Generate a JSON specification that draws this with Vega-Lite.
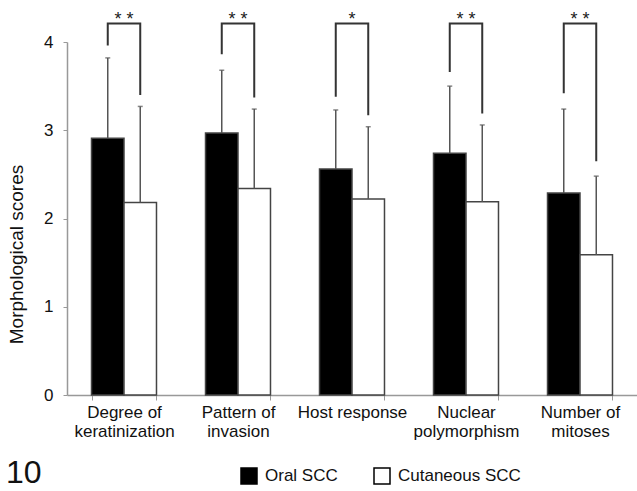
{
  "$schema": "https://vega.github.io/schema/vega-lite/v6.json",
  "autosize": {"type": "none"},
  "padding": {"left": 67, "top": 42, "right": 0, "bottom": 96},
  "width": 570,
  "height": 353,
  "background": "white",
  "title": {"text": "10", "orient": "bottom", "anchor": "start", "frame": "group", "fontSize": 32, "fontWeight": "normal", "font": "Liberation Sans", "color": "#111", "dx": -61, "offset": -29, "baseline": "top"},
  "datasets": {
    "bars": [
      {"cat": "Degree of|keratinization", "group": "Oral SCC", "mean": 2.91, "upper": 3.82},
      {"cat": "Degree of|keratinization", "group": "Cutaneous SCC", "mean": 2.18, "upper": 3.27},
      {"cat": "Pattern of|invasion", "group": "Oral SCC", "mean": 2.97, "upper": 3.68},
      {"cat": "Pattern of|invasion", "group": "Cutaneous SCC", "mean": 2.34, "upper": 3.24},
      {"cat": "Host response", "group": "Oral SCC", "mean": 2.56, "upper": 3.23},
      {"cat": "Host response", "group": "Cutaneous SCC", "mean": 2.22, "upper": 3.04},
      {"cat": "Nuclear|polymorphism", "group": "Oral SCC", "mean": 2.74, "upper": 3.5},
      {"cat": "Nuclear|polymorphism", "group": "Cutaneous SCC", "mean": 2.19, "upper": 3.06},
      {"cat": "Number of|mitoses", "group": "Oral SCC", "mean": 2.29, "upper": 3.24},
      {"cat": "Number of|mitoses", "group": "Cutaneous SCC", "mean": 1.59, "upper": 2.48}
    ],
    "brackets": [
      {"cat": "Degree of|keratinization", "group": "Oral SCC", "seq": 1, "y": 3.96},
      {"cat": "Degree of|keratinization", "group": "Oral SCC", "seq": 2, "y": 4.21},
      {"cat": "Degree of|keratinization", "group": "Cutaneous SCC", "seq": 3, "y": 4.21},
      {"cat": "Degree of|keratinization", "group": "Cutaneous SCC", "seq": 4, "y": 3.4},
      {"cat": "Pattern of|invasion", "group": "Oral SCC", "seq": 1, "y": 3.86},
      {"cat": "Pattern of|invasion", "group": "Oral SCC", "seq": 2, "y": 4.21},
      {"cat": "Pattern of|invasion", "group": "Cutaneous SCC", "seq": 3, "y": 4.21},
      {"cat": "Pattern of|invasion", "group": "Cutaneous SCC", "seq": 4, "y": 3.37},
      {"cat": "Host response", "group": "Oral SCC", "seq": 1, "y": 3.38},
      {"cat": "Host response", "group": "Oral SCC", "seq": 2, "y": 4.21},
      {"cat": "Host response", "group": "Cutaneous SCC", "seq": 3, "y": 4.21},
      {"cat": "Host response", "group": "Cutaneous SCC", "seq": 4, "y": 3.17},
      {"cat": "Nuclear|polymorphism", "group": "Oral SCC", "seq": 1, "y": 3.66},
      {"cat": "Nuclear|polymorphism", "group": "Oral SCC", "seq": 2, "y": 4.21},
      {"cat": "Nuclear|polymorphism", "group": "Cutaneous SCC", "seq": 3, "y": 4.21},
      {"cat": "Nuclear|polymorphism", "group": "Cutaneous SCC", "seq": 4, "y": 3.19},
      {"cat": "Number of|mitoses", "group": "Oral SCC", "seq": 1, "y": 3.42},
      {"cat": "Number of|mitoses", "group": "Oral SCC", "seq": 2, "y": 4.21},
      {"cat": "Number of|mitoses", "group": "Cutaneous SCC", "seq": 3, "y": 4.21},
      {"cat": "Number of|mitoses", "group": "Cutaneous SCC", "seq": 4, "y": 2.65}
    ],
    "stars": [
      {"cat": "Degree of|keratinization", "y": 4.21, "label": "* *"},
      {"cat": "Pattern of|invasion", "y": 4.21, "label": "* *"},
      {"cat": "Host response", "y": 4.21, "label": "*"},
      {"cat": "Nuclear|polymorphism", "y": 4.21, "label": "* *"},
      {"cat": "Number of|mitoses", "y": 4.21, "label": "* *"}
    ]
  },
  "encoding": {
    "x": {
      "field": "cat", "type": "nominal", "sort": null,
      "scale": {"domain": ["Degree of|keratinization", "Pattern of|invasion", "Host response", "Nuclear|polymorphism", "Number of|mitoses"], "paddingInner": 0.43, "paddingOuter": 0.215},
      "axis": {"title": null, "labelAngle": 0, "labelExpr": "split(datum.label, '|')", "labelFont": "Liberation Sans", "labelFontSize": 17, "labelColor": "#111", "labelLineHeight": 19, "labelPadding": 4, "tickBand": "extent", "tickSize": 5, "tickColor": "#999", "domainColor": "#999", "domainWidth": 1.5, "labelLimit": 200}
    }
  },
  "layer": [
    {
      "data": {"name": "bars"},
      "mark": {"type": "bar", "stroke": "#444", "strokeWidth": 1.5},
      "encoding": {
        "xOffset": {"field": "group", "type": "nominal", "scale": {"domain": ["Oral SCC", "Cutaneous SCC"], "paddingInner": 0, "paddingOuter": 0}},
        "y": {
          "field": "mean", "type": "quantitative",
          "scale": {"domain": [0, 4], "nice": false},
          "axis": {"title": "Morphological scores", "values": [0, 1, 2, 3, 4], "format": "d", "grid": false, "labelFont": "Liberation Sans", "labelFontSize": 17, "labelColor": "#111", "labelPadding": 10, "tickSize": 4, "tickColor": "#999", "domainColor": "#999", "domainWidth": 1.5, "titleFont": "Liberation Sans", "titleFontSize": 19, "titleFontWeight": "normal", "titleColor": "#111", "titleX": -41, "titleY": 212, "titleBaseline": "bottom", "titleAlign": "center", "titleAngle": -90}
        },
        "fill": {
          "field": "group", "type": "nominal",
          "scale": {"domain": ["Oral SCC", "Cutaneous SCC"], "range": ["#000000", "#ffffff"]},
          "legend": {"title": null, "orient": "none", "direction": "horizontal", "legendX": 173, "legendY": 425, "padding": 0, "symbolType": "square", "symbolSize": 256, "symbolStrokeColor": "#000", "symbolStrokeWidth": 1.5, "labelFont": "Liberation Sans", "labelFontSize": 17, "labelColor": "#111", "labelOffset": 7, "columnPadding": 33}
        }
      }
    },
    {
      "data": {"name": "bars"},
      "mark": {"type": "rule", "color": "#555", "strokeWidth": 1.5},
      "encoding": {
        "xOffset": {"field": "group", "type": "nominal"},
        "y": {"field": "mean", "type": "quantitative"},
        "y2": {"field": "upper"}
      }
    },
    {
      "data": {"name": "bars"},
      "mark": {"type": "tick", "orient": "horizontal", "color": "#555", "size": 5, "thickness": 1.5},
      "encoding": {
        "xOffset": {"field": "group", "type": "nominal"},
        "y": {"field": "upper", "type": "quantitative"}
      }
    },
    {
      "data": {"name": "brackets"},
      "mark": {"type": "line", "color": "#333", "strokeWidth": 2},
      "encoding": {
        "xOffset": {"field": "group", "type": "nominal"},
        "y": {"field": "y", "type": "quantitative"},
        "detail": {"field": "cat"},
        "order": {"field": "seq"}
      }
    },
    {
      "data": {"name": "stars"},
      "mark": {"type": "text", "font": "Liberation Sans", "fontSize": 18, "color": "#222", "baseline": "alphabetic", "align": "center", "dy": 2},
      "encoding": {
        "y": {"field": "y", "type": "quantitative"},
        "text": {"field": "label"}
      }
    }
  ],
  "config": {"view": {"stroke": null}}
}
